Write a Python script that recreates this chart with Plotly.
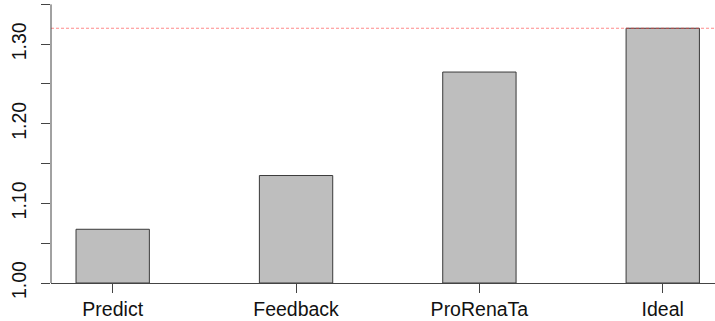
import plotly.graph_objects as go

# Relative performance of each strategy
categories = ["Predict", "Feedback", "ProRenaTa", "Ideal"]
values = [1.0675, 1.135, 1.265, 1.32]
reference_level = 1.32

y_tick_vals = [1.00, 1.05, 1.10, 1.15, 1.20, 1.25, 1.30, 1.35]
y_tick_text = ["1.00", "", "1.10", "", "1.20", "", "1.30", ""]

positions = list(range(len(categories)))
font_family = "Liberation Sans, Arial, sans-serif"
axis_color = "#444444"

fig = go.Figure()
fig.add_trace(go.Bar(
    x=positions,
    y=[v - 1.0 for v in values],
    base=1.0,
    width=0.4,
    marker=dict(color="#BEBEBE", line=dict(color="#3a3a3a", width=1)),
    hoverinfo="skip",
))

# dashed reference line at the ideal level
fig.add_shape(type="line", xref="paper", yref="y",
              x0=0, x1=1, y0=reference_level, y1=reference_level,
              line=dict(color="rgba(255,60,60,0.6)", width=1, dash="3px,2px"))

# left axis line spanning only the tick range
fig.add_shape(type="line", xref="paper", yref="y",
              x0=0, x1=0, y0=y_tick_vals[0], y1=y_tick_vals[-1],
              line=dict(color=axis_color, width=1))

fig.update_layout(
    width=715, height=321,
    margin=dict(l=51, r=0, t=0, b=38, autoexpand=False),
    paper_bgcolor="white", plot_bgcolor="white",
    showlegend=False,
    font=dict(family=font_family, size=19, color="#111111"),
    xaxis=dict(
        range=[-0.3365, 3.285],
        tickmode="array", tickvals=positions, ticktext=categories,
        ticks="outside", ticklen=9, tickcolor=axis_color, tickwidth=1,
        showline=True, linecolor=axis_color, linewidth=1,
        showgrid=False, zeroline=False,
        tickfont=dict(size=19.5),
        ticklabelstandoff=0,
        automargin=False,
    ),
    yaxis=dict(
        range=[1.0, 1.3555],
        tickmode="array", tickvals=y_tick_vals, ticktext=y_tick_text,
        ticks="outside", ticklen=9, tickcolor=axis_color, tickwidth=1,
        tickangle=-90,
        showline=False, showgrid=False, zeroline=False,
        tickfont=dict(size=19.5),
        ticklabelstandoff=7,
        automargin=False,
    ),
)

fig.write_html("out.html")
